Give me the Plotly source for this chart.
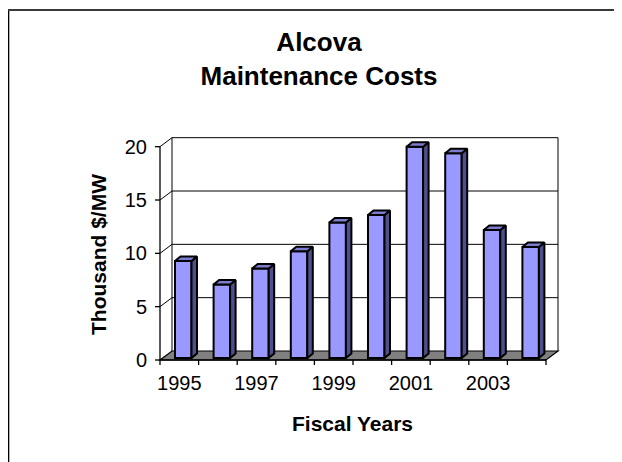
import plotly.graph_objects as go

# ---------------- data ----------------
years = ["1995", "1996", "1997", "1998", "1999", "2000", "2001", "2002", "2003", "2004"]
costs = [9.1, 6.9, 8.4, 10.0, 12.7, 13.4, 19.8, 19.2, 12.0, 10.4]
y_tick_vals = [0, 5, 10, 15, 20]
shown_year_labels = ["1995", "1997", "1999", "2001", "2003"]

# ---------------- geometry (figure pixels; page has an 8px body margin) ----------------
OFF = 8
W, H = 622, 462
L, R, T, B = 150 - OFF, 562 - OFF, 134 - OFF, 366 - OFF   # plot area in figure pixels
X0PX, Y0PX = 160 - OFF, 360 - OFF                         # front axis corner
SX = 38.6                                # px per category
SY = 53.33 / 5                           # px per unit value
xr = [-0.5 - (X0PX - L) / SX, -0.5 + (R - X0PX) / SX]
yr = [-(B - Y0PX) / SY, (Y0PX - T) / SY]

DX, DY = 12 / SX, 9 / SY                 # depth of walls
BAR_OFF, BAR_W = -0.5 + 15 / SX, 16.5 / SX
SDX, SDY = 5.5 / SX, 4.5 / SY            # bar depth
BASE = 2 / SY

n = len(years)
idx = list(range(n))
xa, xb = -0.5, n - 0.5
ytop = max(y_tick_vals)

FRONT = "#9999FF"
SIDE = "#4F4F8C"
TOP = "#7C7CCC"
FONT = "Liberation Sans, Arial, sans-serif"

fig = go.Figure()

# front faces
fig.add_trace(go.Bar(
    x=idx, y=costs, base=BASE, width=BAR_W, offset=BAR_OFF,
    marker=dict(color=FRONT, line=dict(color="black", width=2)),
    hoverinfo="skip", showlegend=False,
))

# side faces and top faces
sx_, sy_, tx_, ty_ = [], [], [], []
for i, v in zip(idx, costs):
    xl = i + BAR_OFF
    xrt = xl + BAR_W
    top = BASE + v
    sx_ += [xrt, xrt + SDX, xrt + SDX, xrt, xrt, None]
    sy_ += [BASE, BASE + SDY, top + SDY, top, BASE, None]
    tx_ += [xl, xl + SDX, xrt + SDX, xrt, xl, None]
    ty_ += [top, top + SDY, top + SDY, top, top, None]

fig.add_trace(go.Scatter(x=sx_, y=sy_, mode="lines", fill="toself", fillcolor=SIDE,
                         line=dict(color="black", width=2), hoverinfo="skip", showlegend=False))
fig.add_trace(go.Scatter(x=tx_, y=ty_, mode="lines", fill="toself", fillcolor=TOP,
                         line=dict(color="black", width=2), hoverinfo="skip", showlegend=False))

shapes = []
# floor
shapes.append(dict(type="path", xref="x", yref="y", layer="below",
                   path=f"M {xa},0 L {xb},0 L {xb+DX},{DY} L {xa+DX},{DY} Z",
                   fillcolor="#808080", line=dict(color="black", width=1.2)))
# wall gridlines (side + back)
for v in y_tick_vals[1:]:
    shapes.append(dict(type="path", xref="x", yref="y", layer="below",
                       path=f"M {xa},{v} L {xa+DX},{v+DY} L {xb+DX},{v+DY}",
                       line=dict(color="black", width=1)))
# wall vertical edges
for xx in (xa + DX, xb + DX):
    shapes.append(dict(type="line", xref="x", yref="y", layer="below",
                       x0=xx, x1=xx, y0=DY, y1=ytop + DY, line=dict(color="black", width=1)))
# front y axis + ticks
shapes.append(dict(type="line", xref="x", yref="y", layer="below",
                   x0=xa, x1=xa, y0=0, y1=ytop, line=dict(color="black", width=1.3)))
for v in y_tick_vals:
    shapes.append(dict(type="line", xref="x", yref="y", layer="below",
                       x0=xa - 5 / SX, x1=xa, y0=v, y1=v, line=dict(color="black", width=1.3)))
# front x axis + ticks
shapes.append(dict(type="line", xref="x", yref="y", layer="below",
                   x0=xa, x1=xb, y0=0, y1=0, line=dict(color="black", width=1.3)))
for k in range(n + 1):
    shapes.append(dict(type="line", xref="x", yref="y", layer="below",
                       x0=k - 0.5, x1=k - 0.5, y0=0, y1=-5 / SY, line=dict(color="black", width=1.3)))

# chart-area border (left and top visible)
pw, ph = R - L, B - T
def px2paper_x(p): return (p - L) / pw
def px2paper_y(p): return (B - p) / ph
shapes.append(dict(type="line", xref="paper", yref="paper",
                   x0=px2paper_x(0.3), x1=px2paper_x(0.3), y0=px2paper_y(1), y1=px2paper_y(520),
                   line=dict(color="black", width=2)))
shapes.append(dict(type="line", xref="paper", yref="paper",
                   x0=px2paper_x(0), x1=px2paper_x(700), y0=px2paper_y(2), y1=px2paper_y(2),
                   line=dict(color="#3a3a3a", width=2)))

annotations = [
    dict(text="<b>Fiscal Years</b>", xref="paper", yref="paper",
         x=px2paper_x(352 - OFF), y=px2paper_y(423 - OFF), xanchor="center", yanchor="middle",
         showarrow=False, font=dict(family=FONT, size=21, color="black")),
    dict(text="<b>Thousand $/MW</b>", xref="paper", yref="paper", textangle=-90,
         x=px2paper_x(98 - OFF), y=px2paper_y(255 - OFF), xanchor="center", yanchor="middle",
         showarrow=False, font=dict(family=FONT, size=21, color="black")),
]

fig.update_layout(
    width=W, height=H,
    margin=dict(l=L, r=W - R, t=T, b=H - B, pad=0),
    paper_bgcolor="white", plot_bgcolor="white",
    title=dict(text="<b>Alcova<br>Maintenance Costs</b>", x=(319 - OFF) / W, xanchor="center",
               xref="container", yref="container", y=1 - 43 / H, yanchor="top",
               font=dict(family=FONT, size=26, color="black")),
    xaxis=dict(range=xr, showgrid=False, zeroline=False, showline=False, ticks="",
               tickmode="array", tickvals=[years.index(y) for y in shown_year_labels],
               ticktext=shown_year_labels, ticklabelstandoff=3,
               tickfont=dict(family=FONT, size=20, color="black"), fixedrange=True),
    yaxis=dict(range=yr, showgrid=False, zeroline=False, showline=False, ticks="",
               tickmode="array", tickvals=y_tick_vals, ticklabelstandoff=2,
               tickfont=dict(family=FONT, size=20, color="black"), fixedrange=True),
    shapes=shapes, annotations=annotations, showlegend=False,
)

fig.write_html("out.html")
